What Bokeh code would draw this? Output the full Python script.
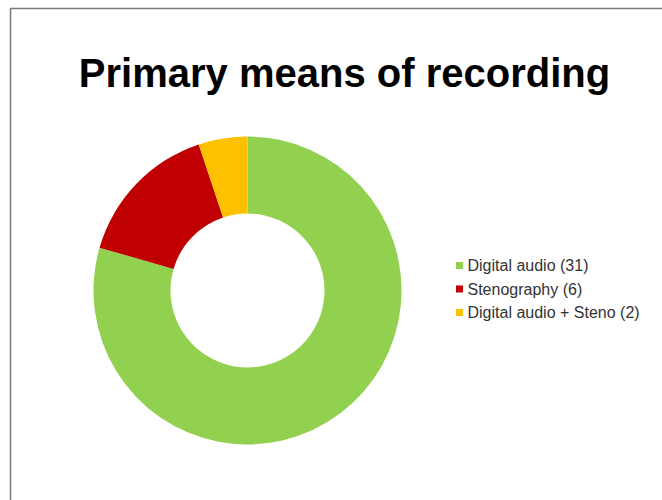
from math import pi
from bokeh.plotting import figure
from bokeh.models import Range1d, ColumnDataSource
from bokeh.core.properties import value
from bokeh.embed import file_html
from bokeh.resources import INLINE

# ---- data ----
title_text = "Primary means of recording"
categories = ["Digital audio", "Stenography", "Digital audio + Steno"]
counts = [31, 6, 2]
colors = ["#92D050", "#C00000", "#FFC000"]

W, H = 662, 500
p = figure(width=W, height=H, output_backend="svg", toolbar_location=None,
           x_axis_type=None, y_axis_type=None, min_border=0,
           x_range=Range1d(0, W), y_range=Range1d(0, H))
p.outline_line_color = None
p.grid.visible = False
p.background_fill_color = "white"

# frame of the slide
p.quad(left=[10], right=[W + 20], top=[H - 8], bottom=[-20],
       fill_color=None, line_color="#7a7a7a", line_width=1.5)

# donut
total = sum(counts)
starts, ends = [], []
acc = 0.0
for c in counts:
    starts.append(pi / 2 - acc / total * 2 * pi)
    acc += c
    ends.append(pi / 2 - acc / total * 2 * pi)
labels = [f"{cat} ({n})" for cat, n in zip(categories, counts)]
src = ColumnDataSource(dict(start=starts, end=ends, color=colors, label=labels))
cx, cy = 247, H - 290
p.annular_wedge(x=cx, y=cy, inner_radius=77, outer_radius=154,
                start_angle="start", end_angle="end", direction="clock",
                fill_color="color", line_color=None, source=src)

# title
p.text(x=[344], y=[H - 72], text=[title_text], text_font=value("Liberation Sans"),
       text_font_style="bold", text_font_size="40px", text_align="center",
       text_baseline="alphabetic", text_color="#000000")

# legend
ly = [H - 265 - i * 23.5 for i in range(len(labels))]
lsrc = ColumnDataSource(dict(x=[459] * len(labels), tx=[467] * len(labels), y=ly,
                             label=labels, color=colors))
p.scatter(x="x", y="y", marker="square", size=7, fill_color="color",
          line_color=None, source=lsrc)
p.text(x="tx", y="y", text="label", text_font=value("Liberation Sans"),
       text_font_size="16px", text_baseline="middle", text_color="#333333",
       source=lsrc)

open("out.html", "w").write(file_html(p, INLINE))
